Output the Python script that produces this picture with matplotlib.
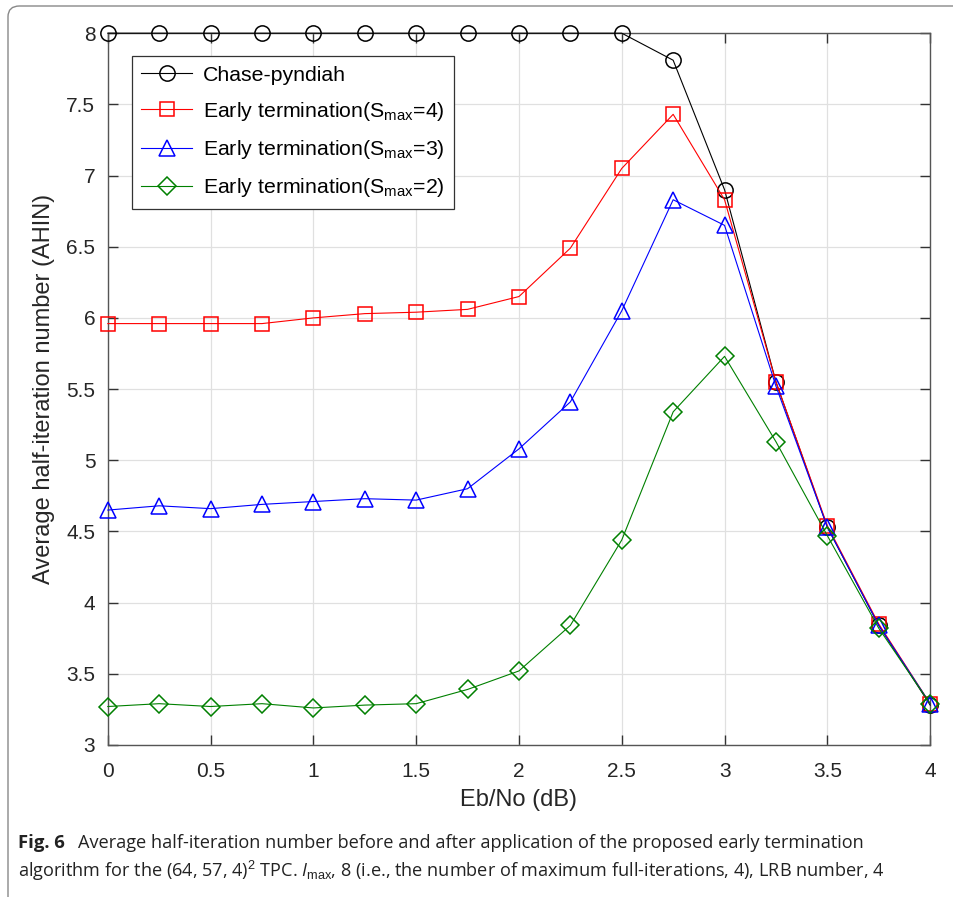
import matplotlib
matplotlib.use("Agg")
import matplotlib.pyplot as plt
from matplotlib.patches import FancyBboxPatch

plt.rcParams['font.family'] = ['Liberation Sans', 'DejaVu Sans']
plt.rcParams['mathtext.fontset'] = 'custom'
plt.rcParams['mathtext.rm'] = 'Liberation Sans'
plt.rcParams['mathtext.it'] = 'Open Sans:italic'

ebno = [0, 0.25, 0.5, 0.75, 1, 1.25, 1.5, 1.75, 2, 2.25, 2.5, 2.75, 3, 3.25, 3.5, 3.75, 4]
chase = [8, 8, 8, 8, 8, 8, 8, 8, 8, 8, 8, 7.81, 6.90, 5.55, 4.53, 3.84, 3.28]
smax4 = [5.96, 5.96, 5.96, 5.96, 6.00, 6.03, 6.04, 6.06, 6.15, 6.49, 7.05, 7.43, 6.83, 5.55, 4.54, 3.85, 3.29]
smax3 = [4.65, 4.68, 4.66, 4.69, 4.71, 4.73, 4.72, 4.80, 5.08, 5.41, 6.05, 6.83, 6.65, 5.52, 4.53, 3.84, 3.29]
smax2 = [3.27, 3.29, 3.27, 3.29, 3.26, 3.28, 3.29, 3.39, 3.52, 3.84, 4.44, 5.34, 5.73, 5.13, 4.47, 3.82, 3.29]

labels = ['Chase-pyndiah',
          r'Early termination(S$_{\mathrm{max}}$=4)',
          r'Early termination(S$_{\mathrm{max}}$=3)',
          r'Early termination(S$_{\mathrm{max}}$=2)']

fig = plt.figure(figsize=(9.54, 8.97), dpi=100)
ax = fig.add_axes([0.113, 0.1695, 0.862, 0.7935])

ax.plot(ebno, chase, color='k', marker='o', ms=11, mfc='none', mew=1.1, lw=0.8,
        label=labels[0], clip_on=False, zorder=3)
ax.plot(ebno, smax4, color='#ff0000', marker='s', ms=10, mfc='none', mew=1.1, lw=0.8,
        label=labels[1], clip_on=False, zorder=3)
ax.plot(ebno, smax3, color='#0000ff', marker='^', ms=12, mfc='none', mew=1.1, lw=0.8,
        label=labels[2], clip_on=False, zorder=3)
ax.plot(ebno, smax2, color='#008000', marker='D', ms=9, mfc='none', mew=1.1, lw=0.8,
        label=labels[3], clip_on=False, zorder=3)

ax.set_xlim(0, 4)
ax.set_ylim(3, 8)
ax.set_xticks([0, 0.5, 1, 1.5, 2, 2.5, 3, 3.5, 4])
ax.set_xticklabels(['0', '0.5', '1', '1.5', '2', '2.5', '3', '3.5', '4'])
ax.set_yticks([3, 3.5, 4, 4.5, 5, 5.5, 6, 6.5, 7, 7.5, 8])
ax.set_yticklabels(['3', '3.5', '4', '4.5', '5', '5.5', '6', '6.5', '7', '7.5', '8'])
ax.grid(True, color='#e0e0e0', lw=0.9)
ax.set_axisbelow(True)
for s in ax.spines.values():
    s.set_color('#555555')
    s.set_linewidth(1.0)
ax.tick_params(direction='in', top=True, right=True, length=7, width=1.0,
               color='#333333', labelsize=15, labelcolor='#262626')
ax.tick_params(axis='x', pad=12)
ax.tick_params(axis='y', pad=9)

ax.set_xlabel('Eb/No (dB)', fontsize=17, color='#262626', labelpad=6)
ax.set_ylabel('Average half-iteration number (AHIN)', fontsize=17, color='#262626', labelpad=8)

leg = ax.legend(loc='upper left', bbox_to_anchor=(0.029, 0.968), borderaxespad=0,
                fontsize=15.3, fancybox=False, framealpha=1, edgecolor='#333333',
                handlelength=2.4, handletextpad=0.5, labelspacing=0.72, borderpad=0.45)
leg.get_frame().set_linewidth(0.9)
leg.set_zorder(5)

# caption
fig.text(18 / 954, 1 - 843 / 897, 'Fig. 6', fontsize=13.3, fontweight='bold',
         family='Open Sans', va='center', color='#222222')
fig.text(78 / 954, 1 - 843 / 897,
         'Average half-iteration number before and after application of the proposed early termination',
         fontsize=13.1, family='Open Sans', va='center', color='#222222')
fig.text(18 / 954, 1 - 871 / 897,
         'algorithm for the (64, 57, 4)$^{2}$ TPC. $I_{\\mathrm{max}}$, 8 (i.e., the number of maximum '
         'full-iterations, 4), LRB number, 4',
         fontsize=13.1, family='Open Sans', va='center', color='#222222')

frame = FancyBboxPatch((8 / 954, -0.05), 1.2, 1 - 6 / 897 + 0.05,
                       boxstyle='round,pad=0,rounding_size=0.012',
                       transform=fig.transFigure, fill=False, ec='#888888', lw=1.0)
fig.patches.append(frame)

fig.savefig('out.png', dpi=100)
